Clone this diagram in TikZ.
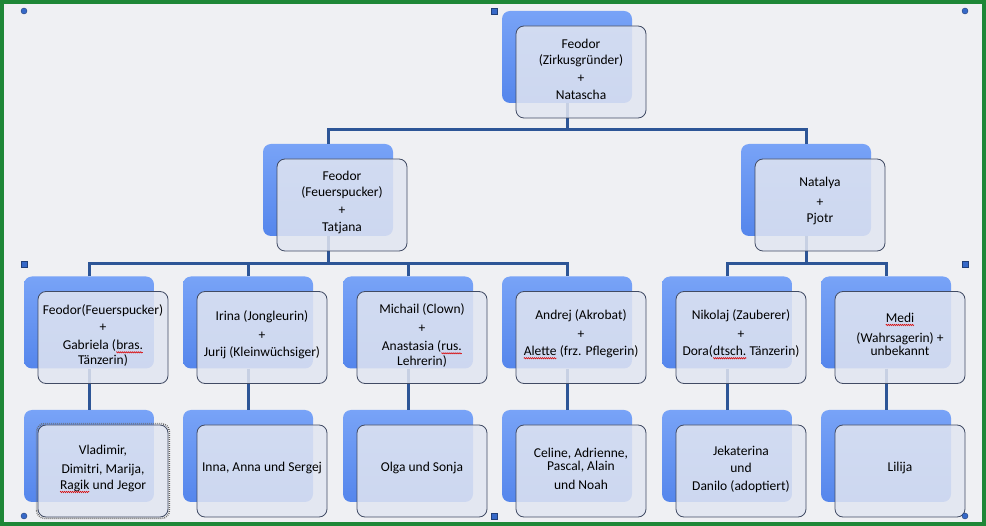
\documentclass[tikz,border=0pt]{standalone}
\usepackage{fontspec}
\setmainfont{Carlito}
\usetikzlibrary{calc,decorations.pathmorphing}
\newcommand\squig[1]{\tikz[baseline=(sqw.base),x=1pt,y=1pt]{\node[inner sep=0pt,outer sep=0pt,text=black] (sqw) {#1};
 \draw[red!85!black, line width=0.5pt, decorate, decoration={zigzag,amplitude=0.7pt,segment length=2pt}] ($(sqw.base west)+(0,-2.5)$) -- ($(sqw.base east)+(0,-2.5)$);}}
\definecolor{bgc}{RGB}{239,240,243}
\definecolor{framec}{RGB}{30,135,55}
\definecolor{connc}{RGB}{45,85,150}
\definecolor{backtop}{RGB}{120,163,247}
\definecolor{backbot}{RGB}{85,134,236}
\definecolor{frontfill}{RGB}{226,230,241}
\definecolor{frontline}{RGB}{65,75,100}
\definecolor{handlec}{RGB}{55,105,200}
\tikzset{
 backbox/.style={rectangle, rounded corners=8pt, minimum width=130pt, minimum height=92pt, inner sep=0pt, top color=backtop, bottom color=backbot, draw=none},
 frontbox/.style={rectangle, rounded corners=8pt, minimum width=130pt, minimum height=92pt, inner sep=0pt, fill=frontfill, fill opacity=0.85, draw=frontline, line width=0.8pt},
 txt/.style={align=center, font=\fontsize{13.5}{13}\selectfont, inner sep=0pt, text=black},
 connector/.style={draw=connc, line width=3pt},
 hsq/.style={rectangle, minimum size=6pt, inner sep=0pt, fill=handlec, draw=handlec!60!black, line width=0.4pt},
 hci/.style={circle, minimum size=6pt, inner sep=0pt, fill=handlec, draw=handlec!60!black, line width=0.4pt},
}
\begin{document}
\begin{tikzpicture}[x=1pt,y=-1pt]
\useasboundingbox (0,0) rectangle (986,526);
\fill[bgc] (0,0) rectangle (986,526);
\draw[framec, line width=4pt] (2,2) rectangle (984,524);

% back boxes
\node[backbox] (b0) at (567,57) {};
\node[backbox] (b21) at (328,190) {};
\node[backbox] (b22) at (806,190) {};
\node[backbox] (b31) at (89,322.5) {};
\node[backbox] (b32) at (248,322.5) {};
\node[backbox] (b33) at (408,322.5) {};
\node[backbox] (b34) at (567,322.5) {};
\node[backbox] (b35) at (727,322.5) {};
\node[backbox] (b36) at (886,322.5) {};
\node[backbox] (b41) at (89,456) {};
\node[backbox] (b42) at (248,456) {};
\node[backbox] (b43) at (408,456) {};
\node[backbox] (b44) at (567,456) {};
\node[backbox] (b45) at (727,456) {};
\node[backbox] (b46) at (886,456) {};

% connectors
\coordinate (bus0) at (0,130);
\coordinate (bus1) at (0,264);
\draw[connector] (b0.south) -- (b0.south |- bus0);
\draw[connector] (b21.north) |- (b22.north |- bus0) -- (b22.north);
\draw[connector] (b21.south) -- (b21.south |- bus1);
\draw[connector] (b31.north) |- (b34.north |- bus1) -- (b34.north);
\draw[connector] (b32.north) -- (b32.north |- bus1);
\draw[connector] (b33.north) -- (b33.north |- bus1);
\draw[connector] (b22.south) -- (b22.south |- bus1);
\draw[connector] (b35.north) |- (b36.north |- bus1) -- (b36.north);
\draw[connector] (b31.south) -- (b41.north);
\draw[connector] (b32.south) -- (b42.north);
\draw[connector] (b33.south) -- (b43.north);
\draw[connector] (b34.south) -- (b44.north);
\draw[connector] (b35.south) -- (b45.north);
\draw[connector] (b36.south) -- (b46.north);

% front boxes
\foreach \n in {0,21,22,31,32,33,34,35,36,41,42,43,44,45,46}
  \node[frontbox] (f\n) at ($(b\n)+(14,15)$) {};

% selection frame
\draw[black!60, line width=1.6pt, dash pattern=on 0.8pt off 1.2pt, rounded corners=8pt]
  ($(f41.south west)+(-1,1)$) rectangle ($(f41.north east)+(1,-1)$);

% texts
\node[txt] (t0) at ($(f0)+(0,-3)$) {Feodor\\[3pt](Zirkusgründer)\\[5pt]+\\[4pt]Natascha};
\node[txt] (t21) at ($(f21)+(0,-3)$) {Feodor\\[3pt](Feuerspucker)\\[5pt]+\\[4pt]Tatjana};
\node[txt] (t22) at ($(f22)+(0,-4)$) {Natalya\\[7pt]+\\[3pt]Pjotr};
\node[txt] (t31) at ($(f31)+(0,-2)$) {Feodor(Feuerspucker)\\[4pt]+\\[5pt]Gabriela (\squig{bras.}\\Tänzerin)};
\node[txt] (t32) at ($(f32)+(0,-3)$) {Irina (Jongleurin)\\[6pt]+\\[4pt]Jurij (Kleinwüchsiger)};
\node[txt] (t33) at ($(f33)+(0,-2)$) {Michail (Clown)\\[6pt]+\\[5pt]Anastasia (\squig{rus.}\\Lehrerin)};
\node[txt] (t34) at ($(f34)+(0,-3)$) {Andrej (Akrobat)\\[6pt]+\\[4pt]\squig{Alette} (frz. Pflegerin)};
\node[txt] (t35) at ($(f35)+(0,-3)$) {Nikolaj (Zauberer)\\[6pt]+\\[4pt]Dora(\squig{dtsch.} Tänzerin)};
\node[txt] (t36) at ($(f36)+(0,-3)$) {\squig{Medi}\\[6pt](Wahrsagerin) +\\unbekannt};
\node[txt] (t41) at ($(f41)+(0,-2)$) {Vladimir,\\[6pt]Dimitri, Marija,\\[3pt]\squig{Ragik} und Jegor};
\node[txt] (t42) at ($(f42)+(0,-3)$) {Inna, Anna und Sergej};
\node[txt] (t43) at ($(f43)+(0,-3)$) {Olga und Sonja};
\node[txt] (t44) at ($(f44)+(0,-2)$) {Celine, Adrienne,\\Pascal, Alain\\[6pt]und Noah};
\node[txt] (t45) at ($(f45)+(0,-2)$) {Jekaterina\\[4pt]und\\[5pt]Danilo (adoptiert)};
\node[txt] (t46) at ($(f46)+(0,-3)$) {Lilija};

% selection handles
\node[hci] (h1) at (24,11) {};
\node[hsq] (h2) at (494,11) {};
\node[hci] (h3) at (965,11) {};
\node[hsq] (h4) at (24,264) {};
\node[hsq] (h5) at (965,264) {};
\node[hci] (h6) at (24,516) {};
\node[hsq] (h7) at (494,516) {};
\node[hci] (h8) at (965,516) {};
\end{tikzpicture}
\end{document}
